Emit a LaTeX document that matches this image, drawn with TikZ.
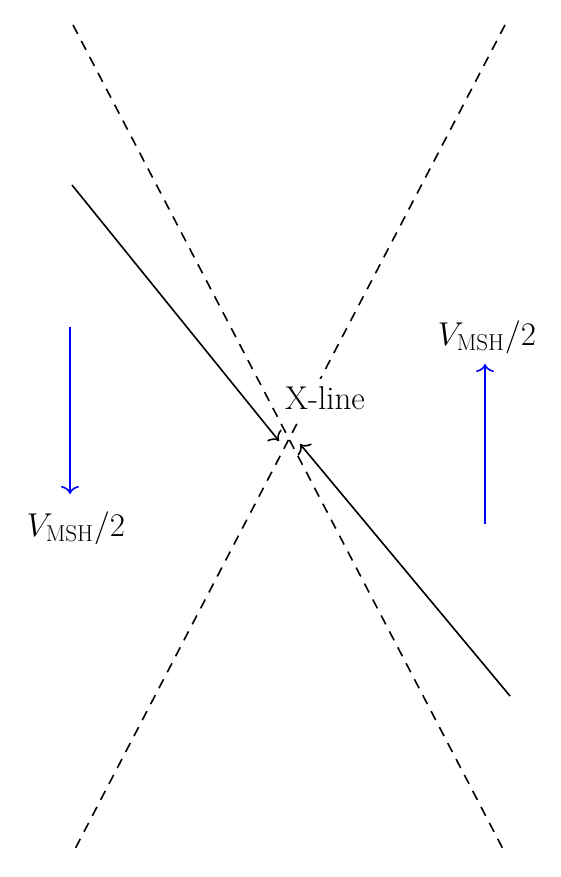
\documentclass[tikz,border=0pt]{standalone}
\usepackage{fix-cm}
\usetikzlibrary{arrows.meta}
\begin{document}
\begin{tikzpicture}[x=1pt,y=-1pt,
  sep/.style={draw=black,line width=1.6pt,dash pattern=on 10pt off 8pt},
  flow/.style={draw=black,line width=1.6pt,-{To[length=8pt,width=18pt]}},
  vel/.style={draw=blue,line width=1.6pt,-{To[length=8pt,width=18pt]}},
  lab/.style={font=\fontsize{33}{38}\selectfont,inner sep=0pt}]
\useasboundingbox (0,0) rectangle (561,877);
\coordinate (d1a) at (73,25);
\coordinate (d1b) at (503,849);
\coordinate (d2a) at (505,25);
\coordinate (d2b) at (75,849);
\draw[sep] (d1a) -- (d1b);
\draw[sep] (d2a) -- (d2b);
\coordinate (s1a) at (72,185);
\coordinate (s1b) at (279,441);
\coordinate (s2a) at (510,696);
\coordinate (s2b) at (300,444);
\draw[flow] (s1a) -- (s1b);
\draw[flow] (s2a) -- (s2b);
\node[lab,fill=white,inner xsep=3pt,inner ysep=7pt] (xl) at (325,398) {X-line};
\coordinate (v1a) at (70,327);
\coordinate (v1b) at (70,494);
\coordinate (v2a) at (485,524);
\coordinate (v2b) at (485,364);
\draw[vel] (v1a) -- (v1b);
\draw[vel] (v2a) -- (v2b);
\node[lab] (l1) at (76,528) {$V_{\mathrm{MSH}}/2$};
\node[lab] (l2) at (487,337) {$V_{\mathrm{MSH}}/2$};
\end{tikzpicture}
\end{document}
